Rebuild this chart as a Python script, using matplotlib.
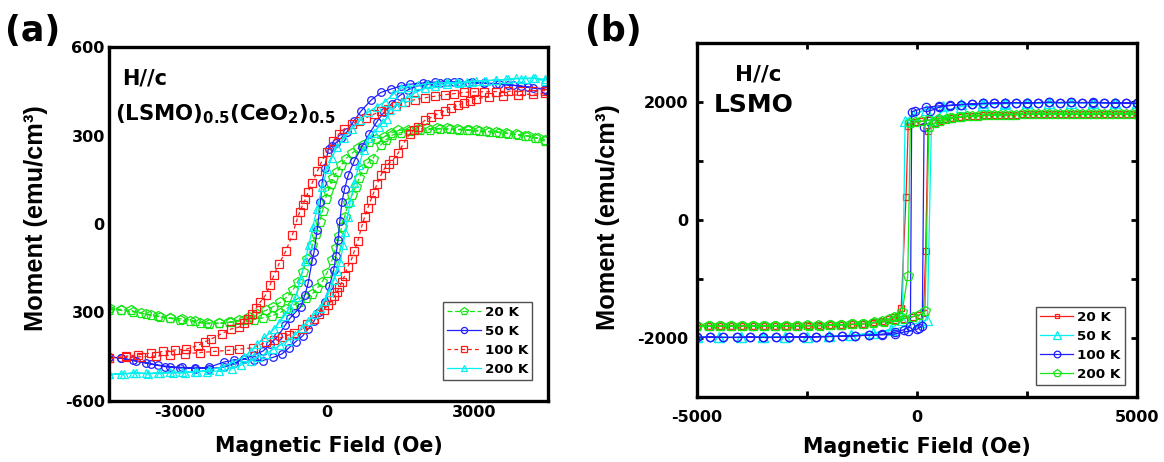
import matplotlib
matplotlib.use('Agg')
import matplotlib.pyplot as plt

# ---------------- data: panel (a) (LSMO)0.5(CeO2)0.5 ----------------
# 20 K (green)
Ha20_desc = [4450, 4250, 4050, 3850, 3650, 3450, 3250, 3050, 2850, 2650, 2450, 2250, 2050, 1850, 1650, 1450, 1300, 1170, 1000, 860,
             740, 630, 510, 390, 290, 200, 130, 80, 20, -30, -90, -150, -230, -300, -400, -500, -600, -700, -820, -950,
             -1100, -1250, -1420, -1600, -1800, -2000, -2200, -2400, -2600, -2800, -3000, -3200, -3400, -3600, -3800, -4000, -4200, -4450]
Ma20_desc = [285, 293, 300, 304, 309, 313, 315, 318, 320, 322, 324, 324, 324, 323, 320, 317, 308, 296, 288, 279,
             268, 256, 240, 222, 200, 177, 157, 137, 112, 86, 45, 7, -35, -72, -118, -163, -195, -225, -248, -265,
             -280, -293, -305, -316, -326, -333, -337, -339, -335, -330, -327, -320, -315, -310, -302, -293, -290, -285]
Ha20_asc = [-4450, -4200, -3950, -3700, -3450, -3200, -2950, -2700, -2450, -2200, -1950, -1700, -1500, -1300, -1115, -950, -845, -700, -574, -430,
            -304, -200, -101, 0, 101, 180, 250, 300, 358, 432, 510, 588, 660, 742, 840, 936, 1092, 1200, 1326, 1500,
            1700, 1900, 2100, 2300, 2500, 2700, 2900, 3100, 3300, 3500, 3700, 3900, 4100, 4300, 4450]
Ma20_asc = [-290, -293, -298, -305, -312, -318, -322, -328, -335, -336, -333, -327, -324, -318, -311, -300, -288, -276, -265, -252,
            -237, -218, -197, -165, -123, -80, -40, -10, 24, 70, 98, 126, 157, 188, 208, 222, 267, 285, 301, 310,
            316, 318, 320, 322, 321, 319, 317, 314, 312, 310, 306, 302, 298, 290, 280]

# 50 K (blue)
Ha50_desc = [4450, 4200, 3950, 3700, 3450, 3200, 2950, 2700, 2450, 2200, 1950, 1700, 1500, 1300, 1100, 900, 700, 550, 400, 280,
             180, 100, 30, -50, -100, -135, -200, -265, -304, -385, -450, -541, -650, -760, -858, -1000, -1160, -1300, -1500, -1700,
             -1900, -2100, -2400, -2700, -3000, -3300, -3600, -3900, -4200, -4450]
Ma50_desc = [455, 462, 468, 472, 476, 478, 480, 482, 482, 481, 478, 474, 468, 457, 446, 420, 384, 350, 311, 290,
             275, 265, 255, 191, 140, 75, -20, -95, -125, -200, -240, -282, -300, -320, -344, -380, -407, -430, -445, -458,
             -462, -468, -485, -490, -488, -484, -475, -465, -455, -450]
Ha50_asc = [-4450, -4200, -3950, -3700, -3450, -3200, -2950, -2700, -2400, -2100, -1895, -1700, -1500, -1315, -1100, -925, -780, -642, -500, -385,
            -270, -155, -50, 50, 135, 180, 223, 262, 304, 360, 432, 560, 710, 860, 1014, 1160, 1318, 1480, 1655, 1850,
            2050, 2300, 2600, 2900, 3200, 3500, 3800, 4100, 4450]
Ma50_asc = [-450, -455, -462, -470, -478, -484, -486, -488, -490, -485, -472, -458, -462, -463, -452, -441, -420, -399, -380, -356,
            -330, -299, -265, -210, -157, -110, -55, 10, 75, 120, 165, 215, 262, 305, 346, 378, 408, 435, 455, 468,
            474, 478, 480, 479, 477, 474, 470, 464, 458]

# 100 K (red)
Ha100_desc = [4450, 4200, 3950, 3700, 3450, 3200, 3000, 2800, 2600, 2400, 2200, 2000, 1800, 1600, 1400, 1250, 1100, 950, 800, 650,
              500, 350, 240, 120, 0, -100, -200, -300, -385, -440, -500, -560, -614, -709, -845, -980, -1080, -1160, -1250, -1365,
              -1450, -1540, -1620, -1700, -1800, -1960, -2150, -2365, -2500, -2635, -2870, -3107, -3350, -3600, -3850, -4100, -4450]
Ma100_desc = [452, 452, 451, 450, 449, 448, 448, 446, 442, 438, 433, 428, 422, 413, 400, 391, 382, 372, 360, 350,
              338, 322, 305, 280, 245, 215, 178, 140, 109, 85, 64, 40, 14, -38, -93, -135, -172, -206, -240, -265,
              -286, -305, -322, -335, -350, -356, -372, -390, -400, -412, -424, -427, -432, -438, -443, -448, -455]
Ha100_asc = [-4450, -4100, -3800, -3500, -3200, -2900, -2600, -2300, -2000, -1790, -1520, -1250, -1080, -912, -780, -676, -507, -400, -270, -160,
             -68, 20, 88, 150, 203, 250, 304, 360, 419, 500, 560, 628, 710, 770, 831, 890, 950, 1020, 1100, 1180,
             1260, 1350, 1450, 1550, 1689, 1780, 1858, 1993, 2130, 2264, 2400, 2534, 2670, 2804, 2920, 3040, 3300, 3600, 3900, 4200,
             4450]
Ma100_asc = [-455, -452, -450, -448, -445, -440, -436, -432, -428, -424, -420, -401, -392, -384, -376, -369, -356, -340, -322, -305,
             -291, -275, -259, -245, -231, -215, -197, -175, -146, -120, -90, -58, -7, 25, 54, 80, 105, 135, 165, 190,
             205, 218, 240, 270, 306, 320, 329, 351, 362, 374, 384, 393, 402, 411, 418, 425, 430, 435, 438, 440,
             443]

# 200 K (cyan)
Ha200_desc = [4450, 4250, 4050, 3850, 3650, 3450, 3250, 3050, 2850, 2650, 2450, 2250, 2050, 1850, 1650, 1500, 1350, 1180, 1010, 845,
              680, 507, 350, 200, 100, 0, -100, -203, -290, -372, -450, -540, -642, -760, -878, -980, -1081, -1180, -1284, -1420,
              -1545, -1700, -1933, -2150, -2400, -2650, -2900, -3150, -3400, -3650, -3900, -4150, -4450]
Ma200_desc = [490, 495, 492, 494, 490, 488, 486, 484, 482, 480, 480, 478, 476, 470, 466, 460, 440, 414, 398, 380,
              352, 323, 292, 260, 225, 185, 125, 52, -10, -72, -125, -185, -248, -285, -311, -335, -356, -372, -384, -408,
              -430, -450, -470, -485, -495, -500, -505, -505, -505, -508, -505, -508, -510]
Ha200_asc = [-4450, -4200, -3950, -3700, -3450, -3200, -2950, -2700, -2450, -2200, -1933, -1750, -1545, -1400, -1250, -1100, -950, -800, -650, -520,
             -385, -260, -150, -50, 45, 140, 200, 270, 330, 372, 420, 473, 560, 650, 750, 859, 960, 1060, 1150, 1216,
             1284, 1400, 1520, 1650, 1800, 2000, 2200, 2450, 2700, 2950, 3200, 3450, 3700, 3950, 4200, 4450]
Ma200_asc = [-510, -508, -505, -506, -505, -503, -502, -500, -500, -498, -490, -478, -463, -450, -440, -425, -410, -395, -375, -352,
             -330, -305, -285, -260, -231, -190, -160, -129, -70, -27, 25, 75, 140, 200, 250, 290, 310, 330, 345, 357,
             385, 400, 414, 430, 445, 460, 468, 475, 478, 482, 485, 488, 490, 493, 495, 485]

# ---------------- data: panel (b) LSMO ----------------
Hb20_desc = [5000, 4750, 4500, 4250, 4000, 3750, 3500, 3250, 3000, 2750, 2500, 2250, 2000, 1750, 1500, 1250, 1000, 750, 500, 250,
             100, -50, -150, -200, -250, -360, -420, -520, -635, -800, -980, -1200, -1450, -1700, -1950, -2200, -2450, -2700, -2950, -3200,
             -3450, -3700, -3950, -4200, -4450, -4700, -5000]
Mb20_desc = [1800, 1800, 1800, 1800, 1798, 1798, 1796, 1795, 1795, 1793, 1790, 1788, 1785, 1780, 1772, 1762, 1750, 1735, 1715, 1690,
             1672, 1660, 1650, 1600, 385, -1490, -1622, -1650, -1678, -1705, -1734, -1755, -1770, -1780, -1785, -1790, -1792, -1795, -1796, -1798,
             -1800, -1800, -1800, -1800, -1800, -1800, -1800]
Hb20_asc = [-5000, -4750, -4500, -4250, -4000, -3750, -3500, -3250, -3000, -2750, -2500, -2250, -2000, -1750, -1500, -1250, -1000, -750, -500, -300,
            -100, 50, 150, 197, 250, 400, 520, 650, 800, 950, 1125, 1375, 1625, 1875, 2125, 2375, 2625, 2875, 3125, 3375,
            3625, 3875, 4125, 4375, 4625, 4875, 5000]
Mb20_asc = [-1800, -1800, -1800, -1800, -1800, -1798, -1797, -1795, -1793, -1790, -1788, -1785, -1780, -1775, -1768, -1758, -1745, -1725, -1700, -1670,
            -1640, -1610, -1570, -520, 1514, 1640, 1680, 1710, 1730, 1745, 1755, 1765, 1775, 1782, 1788, 1790, 1793, 1795, 1796, 1797,
            1798, 1800, 1800, 1800, 1800, 1800, 1800]

Hb50_desc = [5000, 4500, 4000, 3500, 3000, 2500, 2000, 1500, 1000, 600, 200, -100, -272, -330, -600, -1000, -1500, -2000, -2500, -3000,
             -3500, -4000, -4500, -5000]
Mb50_desc = [1980, 1985, 1985, 1990, 1990, 1985, 1985, 1980, 1960, 1930, 1870, 1780, 1683, -1700, -1850, -1920, -1955, -1970, -1980, -1985,
             -1985, -1990, -1990, -1990]
Hb50_asc = [-5000, -4500, -4000, -3500, -3000, -2500, -2000, -1500, -1000, -600, -200, 100, 235, 330, 600, 1000, 1500, 2000, 2500, 3000,
            3500, 4000, 4500, 5000]
Mb50_asc = [-1990, -1990, -1990, -1985, -1985, -1980, -1970, -1955, -1920, -1870, -1790, -1730, -1690, 1700, 1850, 1920, 1955, 1970, 1980, 1985,
            1985, 1990, 1990, 1985]

Hb100_desc = [5000, 4750, 4500, 4250, 4000, 3750, 3500, 3250, 3000, 2750, 2500, 2250, 2000, 1750, 1500, 1250, 1000, 750, 500, 200,
              -45, -120, -150, -300, -505, -800, -1100, -1400, -1700, -2000, -2300, -2600, -2900, -3200, -3500, -3800, -4100, -4400, -4700, -5000]
Mb100_desc = [1975, 1985, 1980, 1990, 1995, 1990, 1995, 1990, 1995, 1990, 1985, 1990, 1985, 1980, 1975, 1965, 1955, 1945, 1935, 1910,
              1853, 1830, -1790, -1860, -1905, -1935, -1950, -1962, -1970, -1975, -1980, -1985, -1985, -1990, -1990, -1985, -1990, -1990, -1985, -1990]
Hb100_asc = [-5000, -4700, -4400, -4100, -3800, -3500, -3200, -2900, -2600, -2300, -2000, -1700, -1400, -1100, -800, -505, -210, 0, 43, 120,
             160, 300, 500, 750, 1000, 1250, 1500, 1750, 2000, 2250, 2500, 2750, 3000, 3250, 3500, 3750, 4000, 4250, 4500, 4750,
             5000]
Mb100_asc = [-1990, -1985, -1990, -1990, -1985, -1990, -1990, -1985, -1985, -1980, -1975, -1970, -1962, -1955, -1948, -1932, -1887, -1850, -1830, -1790,
             1570, 1850, 1910, 1940, 1955, 1965, 1975, 1980, 1985, 1990, 1985, 1990, 1995, 1990, 1995, 1990, 1990, 1985, 1990, 1985,
             1975]

Hb200_desc = [5000, 4750, 4500, 4250, 4000, 3750, 3500, 3250, 3000, 2750, 2500, 2250, 2000, 1750, 1500, 1250, 1000, 750, 500, 250,
              100, -50, -150, -210, -340, -420, -520, -635, -800, -980, -1200, -1450, -1700, -1950, -2200, -2450, -2700, -2950, -3200, -3450,
              -3700, -3950, -4200, -4450, -4700, -5000]
Mb200_desc = [1800, 1800, 1800, 1800, 1798, 1798, 1796, 1795, 1795, 1793, 1790, 1788, 1785, 1780, 1772, 1762, 1750, 1735, 1715, 1690,
              1672, 1660, 1650, -944, -1565, -1622, -1650, -1678, -1705, -1734, -1755, -1770, -1780, -1785, -1790, -1792, -1795, -1796, -1798, -1800,
              -1800, -1800, -1800, -1800, -1800, -1800]
Hb200_asc = [-5000, -4750, -4500, -4250, -4000, -3750, -3500, -3250, -3000, -2750, -2500, -2250, -2000, -1750, -1500, -1250, -1000, -750, -500, -300,
             -100, 50, 182, 270, 400, 520, 650, 800, 950, 1125, 1375, 1625, 1875, 2125, 2375, 2625, 2875, 3125, 3375, 3625,
             3875, 4125, 4375, 4625, 4875, 5000]
Mb200_asc = [-1800, -1800, -1800, -1800, -1800, -1798, -1797, -1795, -1793, -1790, -1788, -1785, -1780, -1775, -1768, -1758, -1745, -1725, -1700, -1670,
             -1640, -1610, -1550, 1580, 1640, 1680, 1710, 1730, 1745, 1755, 1765, 1775, 1782, 1788, 1790, 1793, 1795, 1796, 1797, 1798,
             1800, 1800, 1800, 1800, 1800, 1800]

labels_a = ['20 K', '50 K', '100 K', '200 K']
labels_b = ['20 K', '50 K', '100 K', '200 K']
xticks_a = [-3000, 0, 3000]
xticklabels_a = ['-3000', '0', '3000']
yticks_a = [-600, -300, 0, 300, 600]
yticklabels_a = ['-600', '300', '0', '300', '600']
xticks_b = [-5000, -2500, 0, 2500, 5000]
xticklabels_b = ['-5000', '', '0', '', '5000']
yticks_b = [-3000, -2000, -1000, 0, 1000, 2000, 3000]
yticklabels_b = ['', '-2000', '', '0', '', '2000', '']

# ---------------- styling ----------------
RED, GREEN, BLUE, CYAN = '#ff1a1a', '#14e614', '#1f1fff', '#00f0f0'
plt.rcParams['font.family'] = ['DejaVu Sans']
plt.rcParams['font.weight'] = 'bold'
plt.rcParams['mathtext.fontset'] = 'dejavusans'

W, Hpx = 1164, 462
fig = plt.figure(figsize=(W / 100, Hpx / 100), dpi=100)
axa = fig.add_axes([109 / W, (Hpx - 401) / Hpx, 439 / W, 354 / Hpx])
axb = fig.add_axes([697 / W, (Hpx - 397) / Hpx, 440 / W, 354 / Hpx])

def loop(ax, hd, md, ha, ma, color, marker, ms, ls, label, lw=0.9):
    ax.plot(list(hd) + list(ha), list(md) + list(ma), color=color, marker=marker, ms=ms,
            mfc='none', mec=color, mew=0.9, ls=ls, lw=lw, label=label)

# panel (a)
loop(axa, Ha20_desc, Ma20_desc, Ha20_asc, Ma20_asc, GREEN, 'p', 7.0, (0, (4, 2)), labels_a[0])
loop(axa, Ha50_desc, Ma50_desc, Ha50_asc, Ma50_asc, BLUE, 'o', 5.5, '-', labels_a[1])
loop(axa, Ha100_desc, Ma100_desc, Ha100_asc, Ma100_asc, RED, 's', 5.2, (0, (3, 2.5)), labels_a[2])
loop(axa, Ha200_desc, Ma200_desc, Ha200_asc, Ma200_asc, CYAN, '^', 6.0, '-', labels_a[3])
axa.set_xlim(-4450, 4510)
axa.set_ylim(-600, 600)
axa.set_xticks(xticks_a)
axa.set_xticklabels(xticklabels_a)
axa.set_yticks(yticks_a)
axa.set_yticklabels(yticklabels_a)
axa.tick_params(length=0, labelsize=11.5, pad=3)

# panel (b)
loop(axb, Hb20_desc, Mb20_desc, Hb20_asc, Mb20_asc, RED, 's', 4.2, '-', labels_b[0])
loop(axb, Hb50_desc, Mb50_desc, Hb50_asc, Mb50_asc, CYAN, '^', 6.5, '-', labels_b[1])
loop(axb, Hb100_desc, Mb100_desc, Hb100_asc, Mb100_asc, BLUE, 'o', 6.0, '-', labels_b[2])
loop(axb, Hb200_desc, Mb200_desc, Hb200_asc, Mb200_asc, GREEN, 'p', 7.0, '-', labels_b[3])
axb.set_xlim(-5000, 5000)
axb.set_ylim(-3000, 3000)
axb.set_xticks(xticks_b)
axb.set_xticklabels(xticklabels_b)
axb.set_yticks(yticks_b)
axb.set_yticklabels(yticklabels_b)
axb.tick_params(direction='in', length=4, width=2, top=True, right=True, labelsize=11.5)
axb.tick_params(axis='x', pad=9)
axb.tick_params(axis='y', pad=6)

for ax in (axa, axb):
    for s in ax.spines.values():
        s.set_linewidth(2.4)
    leg = ax.legend(loc='lower right', frameon=True, fancybox=False, framealpha=1,
                    prop=dict(family='DejaVu Sans', weight='bold', size=9.7),
                    borderpad=0.3, labelspacing=0.45, handlelength=2.5, handletextpad=0.3,
                    borderaxespad=0, markerscale=0.8,
                    bbox_to_anchor=(0.964, 0.059) if ax is axa else (0.972, 0.034))
    leg.get_frame().set_edgecolor('#505050')
    leg.get_frame().set_linewidth(1.0)

xlabel_font = dict(family='DejaVu Sans', weight='bold', size=14.8)
ylabel_font = dict(family='Liberation Sans', weight='bold', size=18.3)
axa.set_xlabel('Magnetic Field (Oe)', **xlabel_font)
axb.set_xlabel('Magnetic Field (Oe)', **xlabel_font)
axa.set_ylabel('Moment (emu/cm³)', **ylabel_font)
axb.set_ylabel('Moment (emu/cm³)', **ylabel_font)
axa.xaxis.set_label_coords(0.5, -0.100)
axb.xaxis.set_label_coords(0.5, -0.114)
axa.yaxis.set_label_coords(-0.139, 0.517)
axb.yaxis.set_label_coords(-0.175, 0.508)

# annotations
tf = dict(family='DejaVu Sans', weight='bold')
fig.text(5 / W, 1 - 31 / Hpx, '(a)', fontsize=25, va='center', ha='left', **tf)
fig.text(585 / W, 1 - 31 / Hpx, '(b)', fontsize=25, va='center', ha='left', **tf)
fig.text(122 / W, 1 - 85 / Hpx, 'H//c', fontsize=15, va='baseline', ha='left', **tf)
fig.text(115 / W, 1 - 120 / Hpx, r'(LSMO)$_\mathbf{0.5}$(CeO$_\mathbf{2}$)$_\mathbf{0.5}$', fontsize=15.3,
         va='baseline', ha='left', **tf)
fig.text(735 / W, 1 - 80 / Hpx, 'H//c', fontsize=15.5, va='baseline', ha='left', **tf)
fig.text(714 / W, 1 - 112 / Hpx, 'LSMO', fontsize=18, va='baseline', ha='left', **tf)

fig.savefig('out.png', dpi=100)
